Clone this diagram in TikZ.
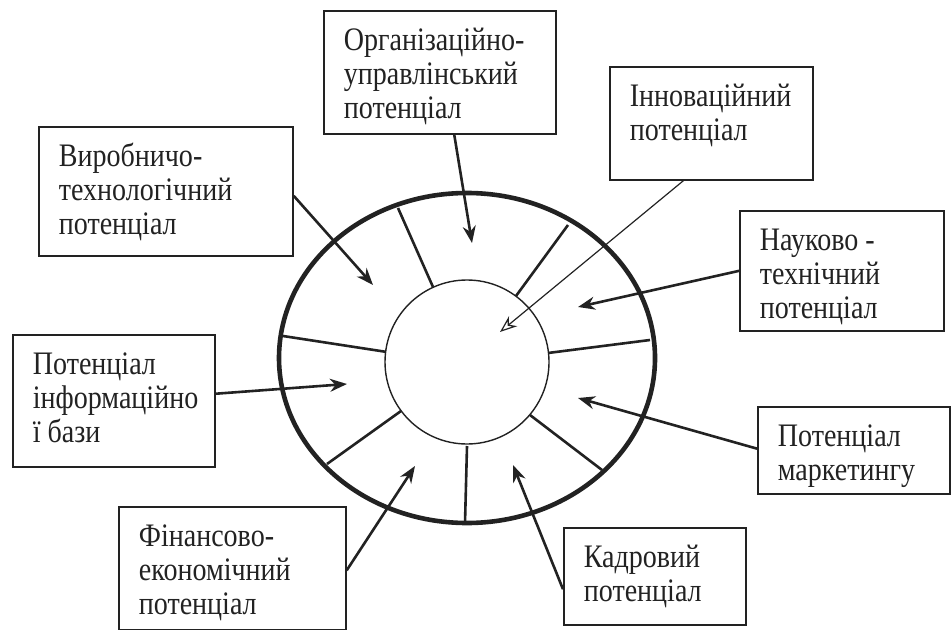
\documentclass[tikz,border=0pt]{standalone}
\usepackage{fontspec}
\setmainfont{Liberation Serif}
\newfontfamily\potfont[FakeStretch=0.855]{Liberation Serif}
\usetikzlibrary{arrows.meta, calc, positioning}
\definecolor{ink}{HTML}{222222}
\tikzset{
    potBox/.style={draw=ink, line width=0.85pt, anchor=north west, inner sep=0pt, text=ink, font=\potfont\fontsize{16.4}{17}\selectfont},
    potArrow/.style={-{Stealth[length=8.5pt, width=6.5pt]}, draw=ink, fill=ink, line width=1.3pt},
    potThin/.style={-{Stealth[open, length=8.5pt, width=6.5pt]}, draw=ink, line width=0.6pt},
    ring/.style={draw=ink, line width=2.3pt},
    core/.style={draw=ink, line width=0.7pt},
    sector/.style={draw=ink, line width=1.3pt},
}
% text of a box: width, height, lines
\newcommand{\potText}[3]{\parbox[c][#2][t]{#1}{\leftskip=10pt\rightskip=0pt plus 1fil\rule{0pt}{20pt}#3}}

\begin{document}
\begin{tikzpicture}[x=0.5pt, y=-0.5pt]
    \useasboundingbox (0,0) rectangle (951,630);

    % ring and core
    \coordinate (hub) at (467,362);
    \draw[ring] (467,358) ellipse [x radius=188, y radius=165];
    \foreach \ix/\iy/\ox/\oy in {433/287/398/208, 516/296/568/225, 387/352/283/336, 548/353/650/340, 401/411/327/464, 467/446/465/523, 530/415/602/470}
        \draw[sector] (\ix,\iy) -- (\ox,\oy);
    \draw[core, fill=white] (hub) circle [radius=82];

    % boxes
    \node[potBox] (org) at (323,10) {\potText{116pt}{61.5pt}{Організаційно-\\управлінський\\потенціал}};
    \node[potBox] (inn) at (609,66) {\potText{101.5pt}{56.5pt}{Інноваційний\\потенціал}};
    \node[potBox] (vyr) at (38,126) {\potText{127pt}{64.5pt}{Виробничо-\\технологічний\\потенціал}};
    \node[potBox] (nauk) at (739,210) {\potText{102pt}{60pt}{Науково -\\технічний\\потенціал}};
    \node[potBox] (inf) at (12,334) {\potText{101pt}{66pt}{Потенціал\\інформаційно\\ї бази}};
    \node[potBox] (mark) at (757,406) {\potText{96pt}{43.5pt}{Потенціал\\маркетингу}};
    \node[potBox] (fin) at (118,506) {\potText{113.5pt}{61.5pt}{Фінансово-\\економічний\\потенціал}};
    \node[potBox] (kadr) at (563,527) {\potText{91pt}{48.5pt}{Кадровий\\потенціал}};

    % arrow tips
    \coordinate (tOrg) at (472,243);
    \coordinate (tInn) at (500,332);
    \coordinate (tVyr) at (373,285);
    \coordinate (tNauk) at (578,307);
    \coordinate (tInf) at (347,384);
    \coordinate (tMark) at (578,398);
    \coordinate (tFin) at (415,466);
    \coordinate (tKadr) at (513,465);

    \draw[potArrow] (org.-77.2) -- (tOrg);
    \draw[potThin] (inn.-116.8) -- (tInn);
    \draw[potArrow] (vyr.-2) -- (tVyr);
    \draw[potArrow] (nauk.180.6) -- (tNauk);
    \draw[potArrow] (inf.4) -- (tInf);
    \draw[potArrow] (mark.179.1) -- (tMark);
    \draw[potArrow] (fin.-1.3) -- (tFin);
    \draw[potArrow] (kadr.-172.2) -- (tKadr);
\end{tikzpicture}
\end{document}
